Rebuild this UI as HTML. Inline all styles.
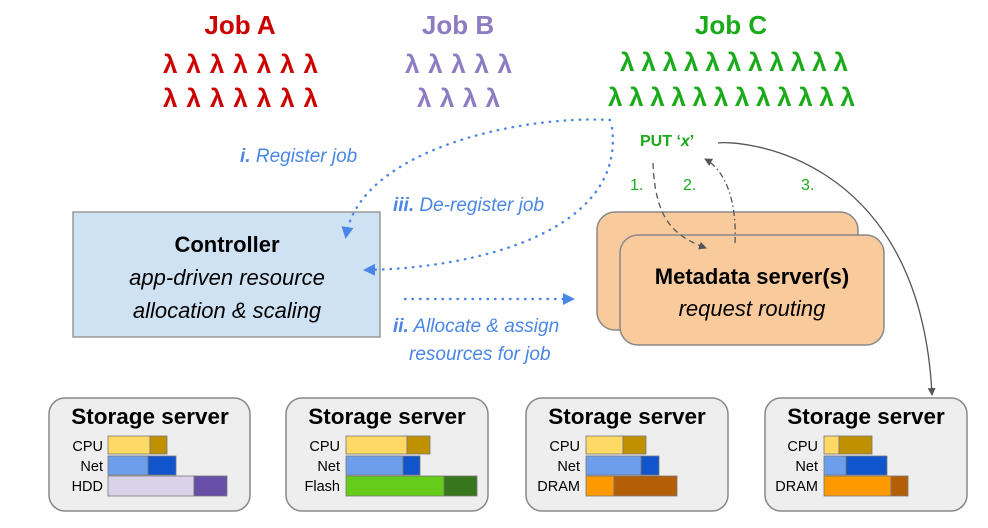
<!DOCTYPE html>
<html><head><meta charset="utf-8"><style>
html,body{margin:0;padding:0;background:#fff;}
svg text{font-family:"Liberation Sans","DejaVu Sans",sans-serif;}
</style></head><body>
<svg width="988" height="523" viewBox="0 0 988 523" xmlns="http://www.w3.org/2000/svg">
<defs>
<marker id="ab" markerWidth="12" markerHeight="12" refX="9" refY="6" orient="auto" markerUnits="userSpaceOnUse"><path d="M0,0 L12,6 L0,12 z" fill="#4a86e8"/></marker>
<marker id="ag" markerWidth="8" markerHeight="8" refX="7" refY="4" orient="auto" markerUnits="userSpaceOnUse"><path d="M0,0 L8,4 L0,8 z" fill="#555"/></marker>
</defs>
<g font-weight="bold" font-size="26" text-anchor="middle">
<text x="240" y="34" fill="#cc0000">Job A</text>
<text x="458" y="34" fill="#8e7cc3">Job B</text>
<text x="731" y="34" fill="#1aab1a">Job C</text>
</g>
<g font-weight="bold" font-size="26">
<text x="163" y="73" fill="#cc0000" textLength="155" lengthAdjust="spacing">λλλλλλλ</text>
<text x="163" y="107" fill="#cc0000" textLength="155" lengthAdjust="spacing">λλλλλλλ</text>
<text x="405" y="73" fill="#8e7cc3" textLength="107" lengthAdjust="spacing">λλλλλ</text>
<text x="417" y="107" fill="#8e7cc3" textLength="83" lengthAdjust="spacing">λλλλ</text>
<text x="620" y="71" fill="#1aab1a" textLength="228" lengthAdjust="spacing">λλλλλλλλλλλ</text>
<text x="608" y="106" fill="#1aab1a" textLength="247" lengthAdjust="spacing">λλλλλλλλλλλλ</text>
</g>
<g font-style="italic" font-size="19" fill="#4a86e8">
<text x="240" y="162"><tspan font-weight="bold">i.</tspan> Register job</text>
<text x="393" y="211"><tspan font-weight="bold">iii.</tspan> De-register job</text>
<text x="393" y="332"><tspan font-weight="bold">ii.</tspan> Allocate &amp; assign</text>
<text x="409" y="360">resources for job</text>
</g>
<rect x="73" y="212" width="307" height="125" fill="#cfe2f3" stroke="#999" stroke-width="1.5"/>
<g text-anchor="middle" font-size="22">
<text x="227" y="252" font-weight="bold">Controller</text>
<text x="227" y="285" font-style="italic">app-driven resource</text>
<text x="227" y="318" font-style="italic">allocation &amp; scaling</text>
</g>
<g fill="none" stroke="#4a86e8" stroke-width="2.4" stroke-dasharray="0.5 7" stroke-linecap="round">
<path d="M610,120 C520,115 360,150 346,236" marker-end="url(#ab)"/>
<path d="M612,128 C625,230 480,268 366,270" marker-end="url(#ab)"/>
<path d="M405,299 L572,299" marker-end="url(#ab)"/>
</g>
<rect x="597" y="212" width="261" height="118" rx="18" fill="#f9cb9c" stroke="#888" stroke-width="1.5"/>
<rect x="620" y="235" width="264" height="110" rx="18" fill="#f9cb9c" stroke="#888" stroke-width="1.5"/>
<g text-anchor="middle" font-size="22">
<text x="752" y="284" font-weight="bold">Metadata server(s)</text>
<text x="752" y="316" font-style="italic">request routing</text>
</g>
<text x="640" y="146" font-size="16" fill="#1aab1a" font-weight="bold">PUT ‘<tspan font-style="italic">x</tspan>’</text>
<g font-size="16" fill="#1aab1a">
<text x="630" y="190">1.</text><text x="683" y="190">2.</text><text x="801" y="190">3.</text>
</g>
<g fill="none" stroke="#555" stroke-width="1.3">
<path d="M653,163 C655,215 670,235 706,248" stroke-dasharray="6 4" marker-end="url(#ag)"/>
<path d="M735,243 C737,200 725,170 705,159" stroke-dasharray="6 3 1.5 3" marker-end="url(#ag)"/>
<path d="M718,143 C735,140 920,150 932,395" marker-end="url(#ag)"/>
</g>
<g stroke="#888" stroke-width="1.5" fill="#eeeeee">
<rect x="49" y="398" width="201" height="113" rx="16"/>
<rect x="286" y="398" width="202" height="113" rx="16"/>
<rect x="526" y="398" width="202" height="113" rx="16"/>
<rect x="765" y="398" width="202" height="113" rx="16"/>
</g>
<g font-weight="bold" font-size="22.5" text-anchor="middle">
<text x="150" y="424">Storage server</text>
<text x="387" y="424">Storage server</text>
<text x="627" y="424">Storage server</text>
<text x="866" y="424">Storage server</text>
</g>
<g font-size="14.5" text-anchor="end">
<text x="103" y="451">CPU</text><text x="103" y="471">Net</text><text x="103" y="491">HDD</text>
<text x="340" y="451">CPU</text><text x="340" y="471">Net</text><text x="340" y="491">Flash</text>
<text x="580" y="451">CPU</text><text x="580" y="471">Net</text><text x="580" y="491">DRAM</text>
<text x="818" y="451">CPU</text><text x="818" y="471">Net</text><text x="818" y="491">DRAM</text>
</g>
<g stroke="#777" stroke-width="0.8">
<rect x="108" y="436" width="42" height="18" fill="#ffd966"/><rect x="150" y="436" width="17" height="18" fill="#bf9000"/>
<rect x="108" y="456" width="40" height="19" fill="#6d9eeb"/><rect x="148" y="456" width="28" height="19" fill="#1155cc"/>
<rect x="108" y="476" width="86" height="20" fill="#d9d2e9"/><rect x="194" y="476" width="33" height="20" fill="#674ea7"/>
<rect x="346" y="436" width="61" height="18" fill="#ffd966"/><rect x="407" y="436" width="23" height="18" fill="#bf9000"/>
<rect x="346" y="456" width="57" height="19" fill="#6d9eeb"/><rect x="403" y="456" width="17" height="19" fill="#1155cc"/>
<rect x="346" y="476" width="98" height="20" fill="#66cc1a"/><rect x="444" y="476" width="33" height="20" fill="#38761d"/>
<rect x="586" y="436" width="37" height="18" fill="#ffd966"/><rect x="623" y="436" width="23" height="18" fill="#bf9000"/>
<rect x="586" y="456" width="55" height="19" fill="#6d9eeb"/><rect x="641" y="456" width="18" height="19" fill="#1155cc"/>
<rect x="586" y="476" width="28" height="20" fill="#ff9900"/><rect x="614" y="476" width="63" height="20" fill="#b45f06"/>
<rect x="824" y="436" width="15" height="18" fill="#ffd966"/><rect x="839" y="436" width="33" height="18" fill="#bf9000"/>
<rect x="824" y="456" width="22" height="19" fill="#6d9eeb"/><rect x="846" y="456" width="41" height="19" fill="#1155cc"/>
<rect x="824" y="476" width="67" height="20" fill="#ff9900"/><rect x="891" y="476" width="17" height="20" fill="#b45f06"/>
</g>
</svg>
</body></html>
